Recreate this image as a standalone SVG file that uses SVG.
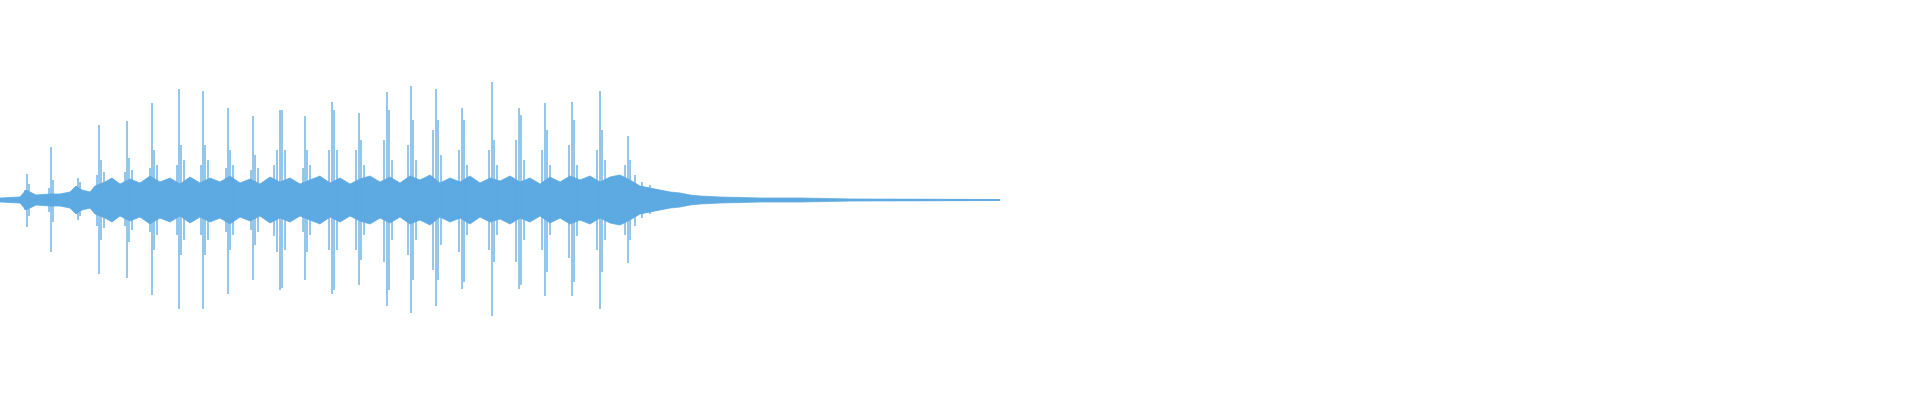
<svg xmlns="http://www.w3.org/2000/svg" width="1920" height="400" viewBox="0 0 1920 400">
<style>
.w{stroke:#5DA9E1;stroke-width:1.3;fill:none}
.b{fill:#5DA9E1;stroke:#5DA9E1;stroke-width:0.8}
</style>
<rect width="1920" height="400" fill="#fff"/>
<g id="waveform">
<line class="w" x1="0" y1="200" x2="1000" y2="200"/>
<polygon class="b" points="0,198 20,197 26,190 30,192 36,195 50,194 60,194 70,192 76,186 82,190 90,192 95,186 105,182 112,178 120,184 130,179 140,183 150,176 160,182 170,178 180,184 190,177 200,183 210,178 220,182 230,176 240,183 250,179 260,184 270,177 280,182 290,178 300,184 310,180 320,176 330,183 340,178 350,184 360,179 370,176 380,182 390,177 400,183 410,176 420,180 430,175 440,183 450,178 460,182 470,176 480,183 490,178 500,181 510,176 520,182 530,178 540,184 550,177 560,182 570,176 580,180 590,176 600,182 610,177 620,175 630,180 640,186 650,188 660,190 670,192 680,193 690,195 700,196 720,197 760,198 800,198 850,199 1000,199.5 1000,200.5 850,201 800,202 760,202 720,203 700,204 690,205 680,207 670,208 660,210 650,212 640,214 630,220 620,225 610,223 600,218 590,224 580,220 570,224 560,218 550,223 540,216 530,222 520,218 510,224 500,219 490,222 480,217 470,224 460,218 450,222 440,217 430,225 420,220 410,224 400,217 390,223 380,218 370,224 360,221 350,216 340,222 330,217 320,224 310,220 300,216 290,222 280,218 270,223 260,216 250,221 240,217 230,224 220,218 210,222 200,217 190,223 180,216 170,222 160,218 150,224 140,217 130,221 120,216 112,222 105,218 95,214 90,208 82,210 76,214 70,208 60,206 50,206 36,205 30,208 26,210 20,203 0,202"/>
<path class="w" d="M27,174V227M29,184V216M25,190V210
M51,147V252M53,180V222M49,188V212
M78,178V220M80,182V216
M99,125V274M101,160V240M104,172V228M97,175V226
M127,121V278M129,158V242M132,170V230M125,172V226
M152,103V295M154,150V250M157,165V235M150,168V232
M179,89V309M181,145V255M184,160V240M177,165V235
M203,91V309M205,145V255M208,160V240M201,165V235
M228,108V294M230,150V250M233,165V235M226,168V232
M253,116V280M255,155V245M258,168V232M251,170V230
M280,110V290M282,110V288M285,150V250M277,150V252M274,165V236
M305,116V280M307,150V252M310,165V235M303,168V232
M332,102V294M334,110V290M337,150V250M329,150V250
M359,113V285M361,140V260M356,150V250M364,165V235
M387,92V306M389,110V290M384,140V262M392,160V240
M411,86V313M413,120V280M408,145V255M416,160V240
M436,89V306M438,120V280M433,130V270M441,155V245
M462,108V289M464,120V282M459,150V252M467,165V235
M492,82V316M494,140V262M489,150V250M497,165V235
M519,108V289M521,115V285M516,140V262M524,160V240
M545,103V296M547,130V272M542,150V250M550,165V235
M572,102V296M574,120V282M569,145V258M577,165V236
M600,91V309M602,130V272M597,150V250M605,160V240
M628,136V263M630,160V240M625,165V235M635,175V226M642,182V218M650,185V214"/>
</g>
</svg>
